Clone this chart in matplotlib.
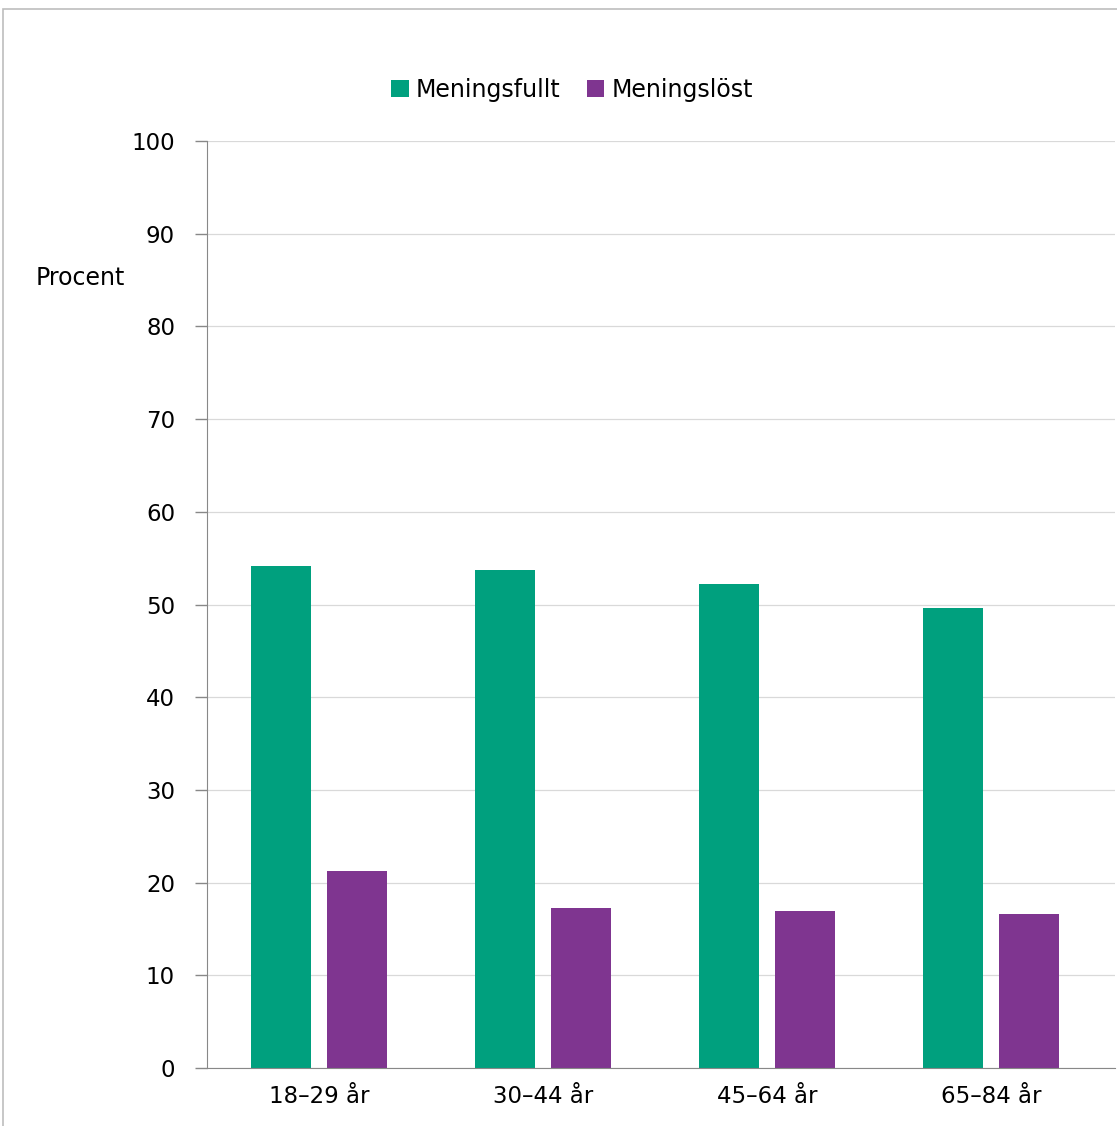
import matplotlib.pyplot as plt
import numpy as np
from matplotlib.patches import Rectangle

# Age groups and share (%) for each answer
age_groups = ['18–29 år', '30–44 år', '45–64 år', '65–84 år']
meaningful = [54.2, 53.7, 52.2, 49.6]
meaningless = [21.3, 17.3, 16.9, 16.6]
series_names = ['Meningsfullt', 'Meningslöst']

green = '#00a07e'
purple = '#7f3590'

plt.rcParams['font.family'] = ['DejaVu Sans']

W, H = 1117, 1126
fig = plt.figure(figsize=(W / 100, H / 100), dpi=100)
ax = fig.add_axes([207 / W, 1 - 1068 / H, (1115 - 207) / W, (1068 - 141) / H])

# thin frame around the chart area (open to the right and bottom)
fig.patches.append(Rectangle((3 / W, -0.01), 1.05, 1 - 9 / H + 0.01,
                             transform=fig.transFigure, fill=False,
                             edgecolor='#bdbdbd', linewidth=1.2))

x = np.arange(len(age_groups))
w = 0.268
ax.bar(x - 0.168, meaningful, w, color=green, label=series_names[0])
ax.bar(x + 0.168, meaningless, w, color=purple, label=series_names[1])

ax.set_xlim(-0.5, 3.5 + 12 / 224)
ax.set_ylim(0, 100)
ax.set_yticks(range(0, 101, 10))
ax.set_xticks(x)
ax.set_xticklabels(age_groups)
ax.tick_params(axis='x', length=0, pad=12, labelsize=16.5)
ax.tick_params(axis='y', length=9, width=1, color='#888888', pad=14, labelsize=16.5)

ax.grid(axis='y', color='#d9d9d9', linewidth=0.9)
ax.set_axisbelow(True)
for side in ['top', 'right']:
    ax.spines[side].set_visible(False)
ax.spines['left'].set_color('#888888')
ax.spines['bottom'].set_color('#888888')

fig.text(36 / W, 1 - 278 / H, 'Procent', fontsize=17, va='center', ha='left')

fig.legend(loc='center', bbox_to_anchor=(572 / W, 1 - 90 / H),
           ncol=2, frameon=False, fontsize=17, handlelength=0.75, handleheight=0.75,
           handletextpad=0.3, columnspacing=1.1)

fig.savefig('out.png', dpi=100)
